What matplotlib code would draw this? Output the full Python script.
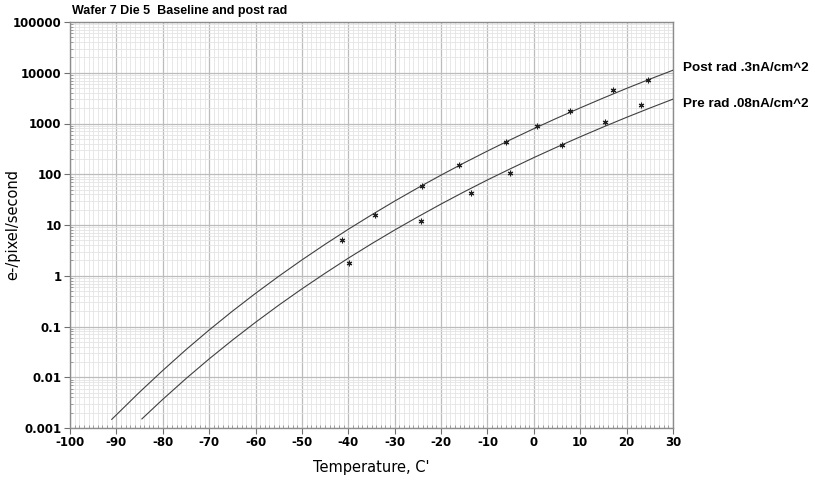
import matplotlib
matplotlib.use("Agg")
import matplotlib.pyplot as plt
from matplotlib.ticker import MultipleLocator, LogLocator, FixedLocator, NullFormatter, FixedFormatter

# ---- data ----
# fitted curve, post rad (temperature C, e-/pixel/second)
post_curve_t = [-91, -85, -80, -75, -70, -65, -60, -55, -50, -45, -40, -35, -30,
                -25, -20, -15, -10, -5, 0, 5, 10, 15, 20, 25, 30]
post_curve_v = [0.00148, 0.00509, 0.0136, 0.0349, 0.0853, 0.200, 0.450, 0.977,
                2.05, 4.17, 8.24, 15.8, 29.6, 54.0, 96.2, 168, 287, 481, 791,
                1279, 2032, 3184, 4920, 7482, 11220]
# fitted curve, pre rad
pre_curve_t = [-84.5, -80, -75, -70, -65, -60, -55, -50, -45, -40, -35, -30,
               -25, -20, -15, -10, -5, 0, 5, 10, 15, 20, 25, 30]
pre_curve_v = [0.00151, 0.00367, 0.00940, 0.0230, 0.0538, 0.121, 0.263, 0.552,
               1.12, 2.22, 4.26, 7.96, 14.5, 25.9, 45.2, 77.3, 129, 213, 344,
               547, 857, 1324, 2014, 3020]
# measured points
post_pts_t = [-41.3, -34.2, -24.2, -16.2, -6.1, 0.7, 7.8, 17.0, 24.6]
post_pts_v = [5.1, 15.6, 58, 149, 425, 880, 1800, 4580, 7100]
pre_pts_t = [-39.9, -24.4, -13.5, -5.2, 6.0, 15.4, 23.1]
pre_pts_v = [1.8, 11.8, 42, 104, 376, 1090, 2290]

series_labels = ["Post rad .3nA/cm^2", "Pre rad .08nA/cm^2"]
x_ticks = list(range(-100, 31, 10))
y_ticks = [0.001, 0.01, 0.1, 1, 10, 100, 1000, 10000, 100000]
y_tick_labels = ["0.001", "0.01", "0.1", "1", "10", "100", "1000", "10000", "100000"]
title = "Wafer 7 Die 5  Baseline and post rad"
x_label = "Temperature, C'"
y_label = "e-/pixel/second"

# ---- figure ----
plt.rcParams['font.family'] = ['DejaVu Sans']
plt.rcParams['axes.unicode_minus'] = False
fig = plt.figure(figsize=(8.15, 4.82), dpi=100)
ax = fig.add_axes([70/815, 1-428/482, (673-70)/815, (428-22)/482])

ax.set_yscale('log')
ax.set_xlim(-100, 30)
ax.set_ylim(0.001, 100000)

line_col = '#404040'
ax.plot(post_curve_t, post_curve_v, color=line_col, lw=0.8, zorder=3)
ax.plot(pre_curve_t, pre_curve_v, color=line_col, lw=0.8, zorder=3)
ax.plot(post_pts_t, post_pts_v, ls='none', marker=(6, 2, 0), ms=4,
        mec='#202020', mew=0.8, zorder=4)
ax.plot(pre_pts_t, pre_pts_v, ls='none', marker=(6, 2, 0), ms=4,
        mec='#202020', mew=0.8, zorder=4)

# ticks
ax.xaxis.set_major_locator(FixedLocator(x_ticks))
ax.xaxis.set_minor_locator(MultipleLocator(1))
ax.yaxis.set_major_locator(FixedLocator(y_ticks))
ax.yaxis.set_major_formatter(FixedFormatter(y_tick_labels))
ax.yaxis.set_minor_locator(LogLocator(base=10, subs=[2, 3, 4, 5, 6, 7, 8, 9], numticks=50))
ax.yaxis.set_minor_formatter(NullFormatter())

ax.grid(True, which='major', color='#bcbcbc', lw=0.9, zorder=0)
ax.grid(True, which='minor', color='#e4e4e4', lw=0.6, zorder=0)
ax.set_axisbelow(True)

for s in ax.spines.values():
    s.set_color('#8c8c8c')
    s.set_linewidth(1.0)

ax.tick_params(which='major', direction='out', length=4, color='#707070',
               labelsize=8.5, pad=2)
ax.tick_params(which='minor', direction='in', length=2.5, color='#909090')
for lab in ax.get_xticklabels() + ax.get_yticklabels():
    lab.set_fontweight('bold')

ax.set_xlabel(x_label, fontsize=10.5, labelpad=8)
ax.set_ylabel(y_label, fontsize=10.5)
ax.yaxis.set_label_coords((20 - 70) / 603, 0.5)
ax.text(72/815, 1-11/482, title, transform=fig.transFigure,
        family=['Liberation Sans'], fontsize=9, fontweight='bold',
        va='center', ha='left')

# series labels on the right
ax.text(683/815, 1-68/482, series_labels[0], transform=fig.transFigure,
        family=['Liberation Sans'], fontsize=9.7, fontweight='bold',
        va='center', ha='left')
ax.text(683/815, 1-104/482, series_labels[1], transform=fig.transFigure,
        family=['Liberation Sans'], fontsize=9.7, fontweight='bold',
        va='center', ha='left')

fig.savefig('out.png', dpi=100)
